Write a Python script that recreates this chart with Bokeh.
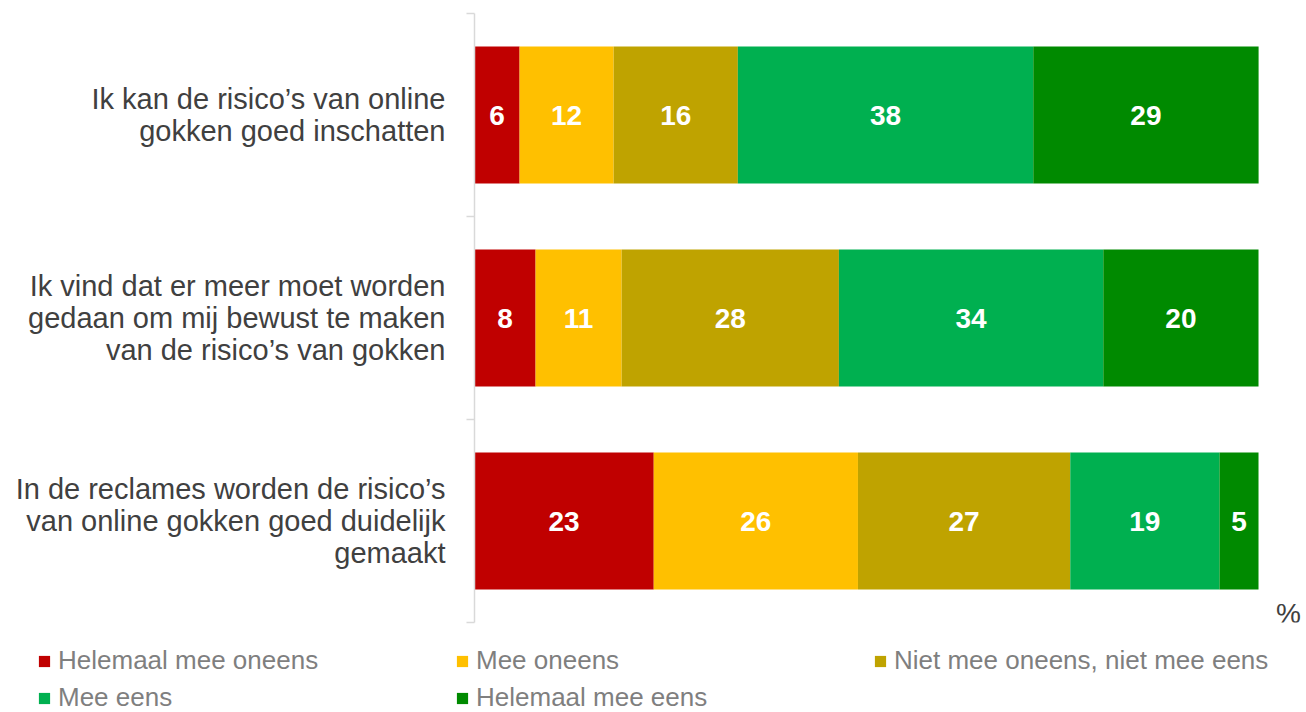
import numpy as np
from bokeh.plotting import figure
from bokeh.layouts import column
from bokeh.models import (ColumnDataSource, Range1d, FixedTicker, Legend, LegendItem, Label)
from bokeh.core.properties import value
from bokeh.embed import file_html
from bokeh.resources import INLINE

# ---- data ----
statements = [
    "Ik kan de risico\u2019s van online\ngokken goed inschatten",
    "Ik vind dat er meer moet worden\ngedaan om mij bewust te maken\nvan de risico\u2019s van gokken",
    "In de reclames worden de risico\u2019s\nvan online gokken goed duidelijk\ngemaakt",
]
series = ["Helemaal mee oneens", "Mee oneens", "Niet mee oneens, niet mee eens",
          "Mee eens", "Helemaal mee eens"]
colors = ["#C00000", "#FFC000", "#BFA300", "#00B050", "#008A00"]
# shares (%)
helemaal_oneens = [5.75, 7.79, 22.86]
mee_oneens = [12.0, 10.98, 26.05]
neutraal = [15.84, 27.71, 27.08]
mee_eens = [37.68, 33.72, 19.03]
helemaal_eens = [28.74, 19.80, 4.98]
# printed labels
labels_helemaal_oneens = ["6", "8", "23"]
labels_mee_oneens = ["12", "11", "26"]
labels_neutraal = ["16", "28", "27"]
labels_mee_eens = ["38", "34", "19"]
labels_helemaal_eens = ["29", "20", "5"]
unit = "%"

FONT = "Liberation Sans"
values_all = [helemaal_oneens, mee_oneens, neutraal, mee_eens, helemaal_eens]
labels_all = [labels_helemaal_oneens, labels_mee_oneens, labels_neutraal,
              labels_mee_eens, labels_helemaal_eens]

ypos = [i + 0.5 for i in range(len(statements))]
data = {"y": ypos}
keys = ["s%d" % k for k in range(len(series))]
for k, vals in zip(keys, values_all):
    data[k] = vals
src = ColumnDataSource(data)

p = figure(width=1306, height=640, output_backend="svg", toolbar_location=None,
           x_range=Range1d(0, 106.12), y_range=Range1d(3, 0),
           x_axis_location=None, min_border_left=474, min_border_right=0,
           min_border_top=13, min_border_bottom=18)
p.frame_align = False
p.outline_line_color = None
p.grid.visible = False
p.background_fill_color = "white"

rs = p.hbar_stack(keys, y="y", height=0.675, color=colors, source=src, line_color=None)

# value labels at segment centres
arr = np.array(values_all, dtype=float)
cum = np.cumsum(arr, axis=0)
mid = cum - arr / 2.0
lx, ly, lt = [], [], []
for k in range(arr.shape[0]):
    for i in range(arr.shape[1]):
        lx.append(mid[k, i]); ly.append(ypos[i]); lt.append(labels_all[k][i])
p.text(x=lx, y=ly, text=lt, text_color="white", text_font=value(FONT),
       text_font_style="bold", text_font_size="28px",
       text_align="center", text_baseline="middle")

# y axis: category labels at centres, separator ticks at boundaries
ax = p.yaxis[0]
ax.ticker = FixedTicker(ticks=ypos, minor_ticks=[0, 1, 2, 3])
ax.major_label_overrides = {y: s for y, s in zip(ypos, statements)}
ax.major_tick_line_color = None
ax.major_tick_out = 0
ax.major_tick_in = 0
ax.minor_tick_out = 8
ax.minor_tick_in = 0
ax.minor_tick_line_color = "#D9D9D9"
ax.minor_tick_line_width = 1.5
ax.axis_line_color = "#D9D9D9"
ax.axis_line_width = 1.5
ax.major_label_standoff = 21
ax.major_label_text_font = FONT
ax.major_label_text_font_size = "29px"
ax.major_label_text_color = "#404040"
ax.major_label_text_line_height = 1.0

p.add_layout(Label(x=103.83, y=2.955, text=unit, text_font=FONT, text_font_size="28px",
                   text_color="#404040", text_align="center", text_baseline="middle"))

# legend strip (same data source; bars kept outside its visible range)
lf = figure(width=1306, height=72, output_backend="svg", toolbar_location=None,
            x_range=Range1d(0, 1), y_range=Range1d(10, 11),
            x_axis_location=None, y_axis_location=None,
            min_border_left=0, min_border_right=0, min_border_top=0, min_border_bottom=0)
lf.frame_align = False
lf.outline_line_color = None
lf.grid.visible = False
lrs = lf.hbar_stack(keys, y="y", height=0.675, color=colors, source=src, line_color=None)
items = [LegendItem(label=s, renderers=[r]) for s, r in zip(series, lrs)]
legend = Legend(items=items, ncols=3, orientation="horizontal",
                location=(37, -1), margin=0, padding=0, spacing=6,
                glyph_width=14, glyph_height=14, label_standoff=7,
                label_width=391, label_height=20,
                label_text_font=FONT, label_text_font_size="26px",
                label_text_color="#7F7F7F", border_line_color=None,
                background_fill_alpha=0)
lf.add_layout(legend, "center")

layout = column(p, lf, spacing=0)
open("out.html", "w").write(file_html(layout, INLINE))
